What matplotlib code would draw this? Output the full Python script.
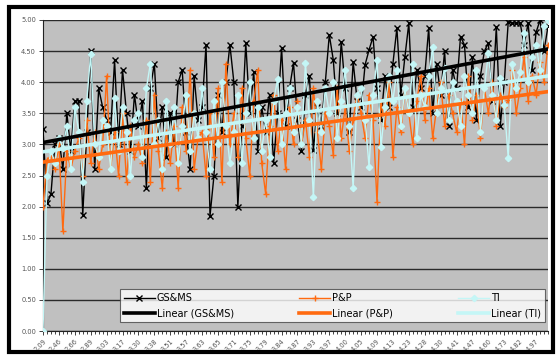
import numpy as np
import matplotlib
matplotlib.use("Agg")
import matplotlib.pyplot as plt
from matplotlib.patches import Rectangle

tick_labels = ["2.09", "2.46", "2.66", "2.89", "3.03", "3.17", "3.30", "3.38",
               "3.51", "3.57", "3.63", "3.65", "3.71", "3.75", "3.79", "3.84",
               "3.87", "3.93", "3.97", "4.00", "4.05", "4.09", "4.13", "4.23",
               "4.28", "4.30", "4.41", "4.47", "4.60", "4.73", "4.82", "4.97"]

gsms = [3.25, 2.05, 2.2, 3.0, 3.1, 2.6, 3.5, 2.9,
        3.7, 3.7, 1.87, 3.2, 4.5, 2.6, 3.9, 3.6,
        3.4, 3.2, 4.35, 3.0, 4.2, 3.5, 2.9, 3.8,
        3.3, 3.7, 2.3, 3.9, 4.3, 3.1, 3.6, 2.8,
        3.5, 3.0, 4.0, 4.2, 3.2, 2.6, 4.1, 3.4,
        3.6, 4.6, 1.85, 2.5, 3.8, 3.2, 4.0, 4.6,
        4.0, 2.0, 3.3, 4.63, 3.5, 4.16, 2.9, 3.6,
        3.2, 3.8, 2.7, 3.5, 4.55, 3.3, 3.9, 4.31,
        3.4, 2.9, 3.8, 4.1, 2.91, 3.6, 3.3, 4.0,
        4.76, 4.36, 3.5, 4.65, 3.9, 3.2, 4.33, 3.7,
        3.6, 4.28, 4.52, 4.73, 3.9, 3.4, 4.1, 3.6,
        4.3, 4.87, 3.8, 4.4, 4.95, 3.6, 4.2, 3.9,
        4.1, 4.87, 3.5, 4.3, 3.8, 4.5, 3.3, 4.2,
        3.9, 4.73, 4.6, 3.6, 4.4, 3.4, 4.1, 4.5,
        4.63, 3.7, 4.89, 3.3, 4.0, 4.97, 4.95, 4.95,
        4.95, 4.6, 4.95, 4.2, 4.8, 5.0, 4.5, 4.9]

pp = [2.0, 2.75, 2.8, 2.6, 3.0, 1.6, 2.9, 2.6,
      2.9, 3.1, 2.5, 3.4, 2.7, 3.2, 2.6, 3.0,
      4.1, 2.6, 3.2, 2.5, 3.5, 2.4, 3.3, 2.8,
      3.0, 2.7, 3.4, 2.4, 3.8, 2.9, 2.3, 3.2,
      2.7, 3.3, 2.3, 3.6, 2.9, 4.2, 2.6, 3.1,
      3.2, 2.5, 3.5, 2.8, 3.9, 2.4, 4.3, 3.0,
      3.5, 2.8, 3.9, 3.1, 2.5, 3.7, 4.2, 2.7,
      2.2, 3.3, 3.8, 2.9, 3.4, 2.6, 3.6, 3.0,
      3.7, 3.0, 3.4, 2.8, 3.9, 3.2, 2.6, 3.5,
      3.3, 2.83, 3.9, 3.1, 3.6, 2.9, 3.4, 3.8,
      3.5, 3.1, 3.8, 3.4, 2.07, 3.7, 3.3, 4.0,
      2.8, 3.6, 3.2, 3.9, 3.5, 3.0, 3.7, 4.1,
      3.4, 3.9, 3.1, 3.6, 4.0, 3.3, 3.8, 3.5,
      3.2, 3.7, 3.0, 4.1, 3.4, 3.8, 3.1, 3.9,
      3.5, 4.0, 3.3, 3.8, 3.6, 3.71, 4.2, 3.5,
      3.9, 4.4, 3.7, 4.1, 3.8, 4.33, 4.0, 4.6]

ti = [0.0, 2.5, 2.9, 2.7, 3.1, 2.95, 3.3, 2.6,
      3.6, 3.2, 2.4, 3.7, 4.45, 3.0, 2.8, 3.4,
      3.3, 2.6, 3.75, 2.9, 3.6, 3.2, 2.5, 3.4,
      3.5, 2.8, 3.9, 4.3, 3.0, 3.4, 2.6, 3.7,
      3.0, 3.6, 2.7, 3.3, 3.8, 2.9, 3.5, 3.1,
      3.9, 3.2, 2.6, 3.7, 3.0, 4.0, 3.3, 2.7,
      3.2, 3.8, 2.7, 3.5, 4.0, 3.1, 3.6, 2.9,
      3.4, 2.8, 3.7, 4.05, 3.0, 3.5, 3.9, 3.2,
      3.6, 3.0, 4.31, 3.4, 2.15, 3.7, 3.2, 3.9,
      3.5, 4.0, 3.1, 3.7, 4.2, 3.3, 2.3, 3.8,
      3.9, 3.4, 2.64, 3.8, 4.36, 2.96, 3.6, 4.1,
      3.7, 4.2, 3.3, 3.9, 3.5, 4.3, 3.1, 3.8,
      3.6, 4.1, 4.57, 3.5, 3.9, 4.23, 3.4, 4.0,
      3.7, 3.3, 4.1, 3.8, 3.5, 4.2, 3.2, 3.9,
      4.47, 3.8, 3.4, 4.07, 3.63, 2.78, 4.3, 3.9,
      4.17, 4.79, 4.0, 4.4, 4.6, 4.2, 4.9, 5.0]

series_names = ["GS&MS", "P&P", "TI"]
colors = ["#000000", "#ff6a10", "#c4f6f6"]
markers = ["x", "+", "D"]

W, H = 556, 358
fig = plt.figure(figsize=(W / 100, H / 100), dpi=100)
fig.patch.set_facecolor("white")
ax = fig.add_axes([43 / W, 1 - 331 / H, 505 / W, 311 / H])
ax.set_facecolor("#c0c0c0")

x = np.arange(len(gsms))
handles = []
for vals, name, c, m in zip([gsms, pp, ti], series_names, colors, markers):
    vals = np.asarray(vals)
    ms = 4.5 if m != "D" else 3.2
    h, = ax.plot(x, vals, color=c, lw=1.0, marker=m, ms=ms, mew=1.0,
                 label=name, zorder=3)
    k, b = np.polyfit(x, vals, 1)
    t, = ax.plot(x, k * x + b, color=c, lw=2.6, label="Linear (%s)" % name,
                 zorder=4)
    handles += [h, t]

ax.set_xlim(0, len(gsms) - 1)
ax.set_ylim(0, 5)
ax.set_yticks(np.arange(0, 5.01, 0.5))
ax.set_yticklabels(["%.2f" % v for v in np.arange(0, 5.01, 0.5)])
ax.yaxis.grid(True, color="#2a2a2a", lw=1.0)
ax.set_axisbelow(True)
ax.set_xticks(np.arange(0, len(gsms), 4))
ax.set_xticklabels(tick_labels, rotation=45, ha="right", rotation_mode="anchor")
ax.set_xticks(np.arange(0, len(gsms)), minor=True)
ax.tick_params(axis="both", which="major", labelsize=4.8, labelcolor="#555555",
               length=3, width=0.6, color="#222222", pad=2)
ax.tick_params(axis="x", which="minor", length=2, width=0.6, color="#222222")
for s in ["top", "right"]:
    ax.spines[s].set_visible(False)
for s in ["left", "bottom"]:
    ax.spines[s].set_color("#222222")
    ax.spines[s].set_linewidth(0.8)

leg = ax.legend(handles=handles, ncol=3, loc="lower left",
                bbox_to_anchor=(0.152, 0.029, 0.842, 0.109), mode="expand",
                fontsize=7, frameon=True, fancybox=False, borderpad=0.4,
                handlelength=3.2, labelspacing=0.5, handletextpad=0.2,
                borderaxespad=0.0)
leg.get_frame().set_edgecolor("#444444")
leg.get_frame().set_linewidth(0.8)
leg.set_zorder(10)

fig.add_artist(Rectangle((9 / W, 1 - 352 / H), 544 / W, 345 / H,
                         transform=fig.transFigure, fill=False, lw=3,
                         ec="black"))

fig.savefig("out.png", dpi=100, facecolor="white")
